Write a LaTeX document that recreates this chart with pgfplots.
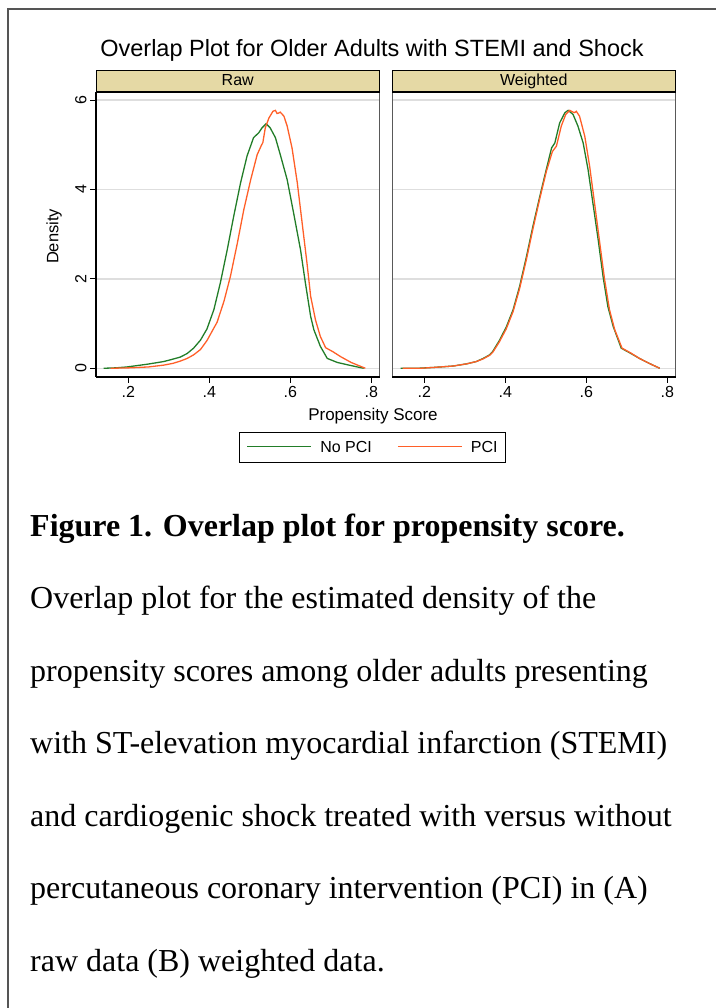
\documentclass[border=0pt]{standalone}
\usepackage{fontspec}
\setmainfont{Liberation Serif}
\newfontfamily\stata{Liberation Sans}
\usepackage{pgfplots}
\pgfplotsset{compat=1.18}

\definecolor{pgreen}{RGB}{34,125,40}
\definecolor{porange}{RGB}{255,95,40}
\definecolor{stripc}{RGB}{229,217,165}
\definecolor{gridc}{RGB}{222,222,222}
\definecolor{framec}{RGB}{85,85,85}

\newcommand{\legline}[1]{\textcolor{#1}{\rule[5pt]{64pt}{1.3pt}}\hspace{9pt}}

\pgfplotsset{
  panel/.style={
    scale only axis, width=283.5pt, height=284.5pt,
    xmin=0.12, xmax=0.82, ymin=-0.195, ymax=6.17,
    xtick={0.2,0.4,0.6,0.8}, xticklabels={.2,.4,.6,.8},
    ytick={0,2,4,6},
    ymajorgrids, grid style={gridc, line width=1.3pt},
    tick align=outside, major tick length=6pt,
    xtick pos=bottom, ytick pos=left,
    tick style={black, line width=0.9pt},
    axis line style={black!65, line width=0.9pt},
    /pgf/number format/assume math mode=true,
    tick label style={font=\stata\fontsize{16}{16}\selectfont},
    clip=false,
  },
}

\begin{document}
\begin{tikzpicture}[x=1pt,y=1pt]
\path[use as bounding box] (0,0) rectangle (716,1008);

% outer frame (only left and top visible)
\draw[framec, line width=2pt] (8,0) -- (8,998.5) -- (716,998.5);

% title
\node[anchor=base, font=\stata\fontsize{23.5}{24}\selectfont] at (372,951.5)
  {Overlap Plot for Older Adults with STEMI and Shock};

% Raw panel
\begin{axis}[panel, at={(96pt,631pt)}, anchor=south west,
  yticklabel style={rotate=90, anchor=south},
  legend style={at={(0.975,-0.247)}, anchor=center, draw=black,
    legend columns=2,
    font=\stata\fontsize{16}{16}\selectfont,
    inner xsep=6pt, inner ysep=6.5pt,
    /tikz/every odd column/.append style={column sep=0pt},
    /tikz/every even column/.append style={column sep=22pt}},
  legend image code/.code={},
]
\addplot[pgreen, line width=1.3pt] coordinates {
(0.139,0) (0.170,0.01) (0.197,0.03) (0.246,0.09) (0.287,0.15) (0.304,0.19)
(0.328,0.25) (0.345,0.33) (0.361,0.45) (0.378,0.63) (0.394,0.88) (0.411,1.31)
(0.427,1.91) (0.444,2.65) (0.460,3.40) (0.477,4.15) (0.493,4.75) (0.509,5.16)
(0.522,5.27) (0.530,5.38) (0.540,5.47) (0.550,5.38) (0.563,5.16) (0.575,4.78)
(0.592,4.22) (0.608,3.47) (0.625,2.65) (0.637,1.91) (0.650,1.16) (0.658,0.86)
(0.674,0.49) (0.691,0.22) (0.716,0.13) (0.740,0.08) (0.760,0.04) (0.781,0)
};
\addlegendentry{\legline{pgreen}No PCI}
\addplot[porange, line width=1.3pt] coordinates {
(0.156,0) (0.205,0.01) (0.250,0.03) (0.287,0.07) (0.310,0.11) (0.328,0.16)
(0.345,0.22) (0.361,0.30) (0.378,0.42) (0.394,0.62) (0.411,0.90) (0.419,1.03)
(0.436,1.50) (0.452,2.06) (0.469,2.80) (0.485,3.55) (0.502,4.22) (0.518,4.78)
(0.528,4.98) (0.532,5.05) (0.538,5.38) (0.547,5.60) (0.557,5.75) (0.563,5.77)
(0.567,5.70) (0.571,5.71) (0.575,5.73) (0.584,5.64) (0.592,5.42) (0.604,4.93)
(0.617,4.15) (0.629,3.25) (0.641,2.35) (0.650,1.61) (0.662,1.08) (0.674,0.71)
(0.687,0.46) (0.705,0.37) (0.724,0.26) (0.750,0.13) (0.785,0)
};
\addlegendentry{\legline{porange}PCI}
\draw[black, line width=1.6pt] (rel axis cs:0,0) -- (rel axis cs:1,0);
\draw[black, line width=1.6pt] (rel axis cs:0,0) -- (rel axis cs:0,1);
\end{axis}

% Weighted panel
\begin{axis}[panel, at={(392pt,631pt)}, anchor=south west,
  yticklabel=\empty, ytick style={draw=none},
]
\addplot[pgreen, line width=1.3pt] coordinates {
(0.141,0) (0.183,0.00) (0.225,0.02) (0.271,0.05) (0.305,0.10) (0.328,0.15)
(0.345,0.22) (0.361,0.30) (0.369,0.38) (0.385,0.62) (0.402,0.92) (0.419,1.31)
(0.435,1.83) (0.452,2.50) (0.468,3.18) (0.485,3.85) (0.501,4.45) (0.514,4.93)
(0.522,5.04) (0.534,5.49) (0.547,5.72) (0.555,5.77) (0.567,5.68) (0.579,5.42)
(0.592,5.04) (0.604,4.45) (0.616,3.70) (0.629,2.88) (0.641,2.06) (0.653,1.38)
(0.666,0.94) (0.686,0.45) (0.710,0.33) (0.731,0.22) (0.755,0.11) (0.781,0)
};
\addplot[porange, line width=1.3pt] coordinates {
(0.146,0) (0.190,0.00) (0.225,0.02) (0.271,0.05) (0.305,0.10) (0.328,0.15)
(0.345,0.21) (0.361,0.29) (0.369,0.36) (0.385,0.59) (0.402,0.88) (0.419,1.27)
(0.435,1.78) (0.452,2.44) (0.468,3.12) (0.485,3.80) (0.501,4.40) (0.516,4.85)
(0.526,4.97) (0.538,5.42) (0.549,5.68) (0.559,5.77) (0.567,5.73) (0.571,5.72)
(0.575,5.75) (0.583,5.64) (0.596,5.19) (0.608,4.52) (0.620,3.70) (0.633,2.80)
(0.645,1.98) (0.657,1.31) (0.670,0.86) (0.688,0.45) (0.710,0.34) (0.731,0.22)
(0.755,0.11) (0.781,0)
};
\draw[black, line width=1.6pt] (rel axis cs:0,0) -- (rel axis cs:1,0);
\end{axis}

% panel strips
\draw[fill=stripc, draw=black, line width=1pt] (96,916) rectangle (379.5,937);
\draw[black, line width=1.8pt] (96,916) -- (379.5,916);
\node[anchor=base, font=\stata\fontsize{16}{16}\selectfont] at (237.75,922) {Raw};
\draw[fill=stripc, draw=black, line width=1pt] (392,916) rectangle (675.5,937);
\draw[black, line width=1.8pt] (392,916) -- (675.5,916);
\node[anchor=base, font=\stata\fontsize{16}{16}\selectfont] at (533.75,922) {Weighted};

% axis titles
\node[rotate=90, font=\stata\fontsize{16.5}{17}\selectfont] at (54,771.5) {Density};
\node[anchor=base, font=\stata\fontsize{17}{17}\selectfont] at (373,587) {Propensity Score};

% caption
\begin{scope}[every node/.style={anchor=base west, inner sep=0pt,
    font=\fontsize{32}{32}\selectfont}]
\node at (30,471) {\bfseries Figure 1. Overlap plot for propensity score.};
\node at (30,399.5) {Overlap plot for the estimated density of the};
\node at (30,326.5) {propensity scores among older adults presenting};
\node at (30,254.5) {with ST-elevation myocardial infarction (STEMI)};
\node at (30,181.5) {and cardiogenic shock treated with versus without};
\node at (30,109.5) {percutaneous coronary intervention (PCI) in (A)};
\node at (30,36.5) {raw data (B) weighted data.};
\end{scope}
\end{tikzpicture}
\end{document}
